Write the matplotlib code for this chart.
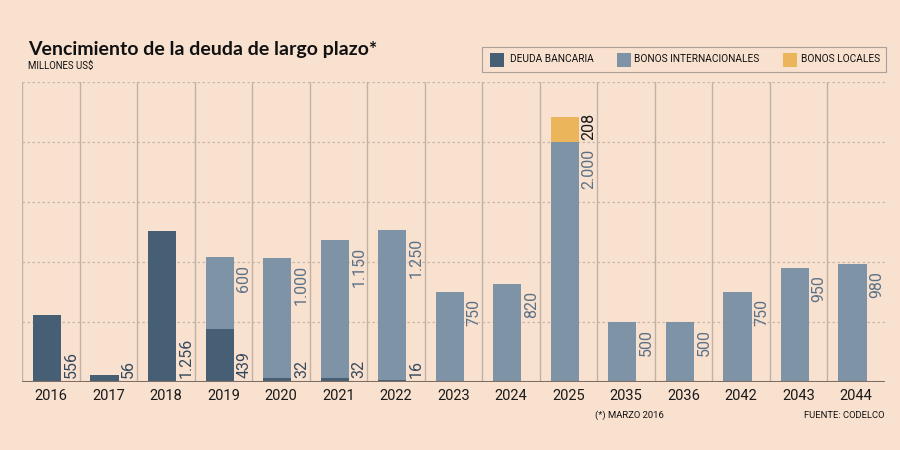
import matplotlib
matplotlib.use("Agg")
import matplotlib.pyplot as plt
from matplotlib.patches import Rectangle
import numpy as np

categories = ["2016", "2017", "2018", "2019", "2020", "2021", "2022", "2023",
              "2024", "2025", "2035", "2036", "2042", "2043", "2044"]
deuda_bancaria = [556, 56, 1256, 439, 32, 32, 16, 0, 0, 0, 0, 0, 0, 0, 0]
bonos_internacionales = [0, 0, 0, 600, 1000, 1150, 1250, 750, 820, 2000, 500, 500, 750, 950, 980]
bonos_locales = [0, 0, 0, 0, 0, 0, 0, 0, 0, 208, 0, 0, 0, 0, 0]
series_names = ["DEUDA BANCARIA", "BONOS INTERNACIONALES", "BONOS LOCALES"]

def fmt(v):
    return f"{v:,}".replace(",", ".")

BG = "#f9e1cf"
C_DEUDA = "#475f75"
C_BONOS = "#7e93a6"
C_LOCAL = "#ebb55b"
TXT = ["Roboto", "DejaVu Sans"]

plt.rcParams["font.family"] = TXT
fig = plt.figure(figsize=(9, 4.5), dpi=100, facecolor=BG)
ax = fig.add_axes([22/900, 1-382/450, 863/900, 300/450])
ax.set_facecolor(BG)

n = len(categories)
x = np.arange(n)
bl = 0.19
bw = 0.49
lx = 0.855

d = np.array(deuda_bancaria)
b = np.array(bonos_internacionales)
l = np.array(bonos_locales)

ax.bar(x + bl, d, width=bw, align="edge", color=C_DEUDA, zorder=3)
ax.bar(x + bl, b, width=bw, bottom=d, align="edge", color=C_BONOS, zorder=3)
ax.bar(x + bl, l, width=bw, bottom=d + b, align="edge", color=C_LOCAL, zorder=3)

ax.set_xlim(0, n)
ax.set_ylim(0, 2500)

# grid
for yv in [500, 1000, 1500, 2000, 2500]:
    ax.axhline(yv, color="#c6b8ab", lw=0.9, ls=(0, (2, 2)), zorder=1)
for xv in range(n):
    ax.axvline(xv, color="#bfb1a5", lw=1.0, zorder=1)
ax.axhline(0, color="#7d6d62", lw=2.2, zorder=4)

for s in ax.spines.values():
    s.set_visible(False)
ax.set_yticks([])
ax.set_xticks(x + 0.5)
ax.set_xticklabels(categories, fontsize=10.5, color="#1a1a1a")
ax.tick_params(axis="x", length=0, pad=5)

# value labels
for i in range(n):
    if d[i] > 0:
        ax.text(i + lx, 30, fmt(d[i]), rotation=90, ha="center", va="bottom",
                fontsize=11.5, color="#34495d", zorder=5)
    if b[i] > 0:
        top = d[i] + b[i]
        ax.text(i + lx, top - 60, fmt(b[i]), rotation=90, ha="center", va="top",
                fontsize=11.5, color="#5b7187", zorder=5)
    if l[i] > 0:
        ax.text(i + lx, d[i] + b[i] + 15, fmt(l[i]), rotation=90, ha="center", va="bottom",
                fontsize=11.5, color="#1a1a1a", zorder=5)

# title
fig.text(28/900, 1-50/450, "Vencimiento de la deuda de largo plazo*", fontsize=14,
         fontweight="bold", color="#111111", va="center", ha="left",
         family=["Lato", "DejaVu Sans"])
fig.text(28/900, 1-66/450, "MILLONES US$", fontsize=6.9, color="#111111", va="center", ha="left")

# legend
fig.patches.append(Rectangle((482/900, 1-72/450), 404/900, 25/450, transform=fig.transFigure,
                             facecolor="none", edgecolor="#a9a09a", lw=0.8))
leg_items = [(490, 510, C_DEUDA), (617, 634, C_BONOS), (783, 801, C_LOCAL)]
for (sx, tx, c), name in zip(leg_items, series_names):
    fig.patches.append(Rectangle((sx/900, 1-67/450), 14/900, 14/450, transform=fig.transFigure,
                                 facecolor=c, edgecolor="none"))
    fig.text(tx/900, 1-59.5/450, name, fontsize=7.3, color="#111111", va="center", ha="left")

# footnotes
fig.text(595/900, 1-415/450, "(*) MARZO 2016", fontsize=6.8, color="#111111", va="center", ha="left")
fig.text(885/900, 1-415/450, "FUENTE: CODELCO", fontsize=6.8, color="#111111", va="center", ha="right")

fig.savefig("out.png", dpi=100, facecolor=BG)
